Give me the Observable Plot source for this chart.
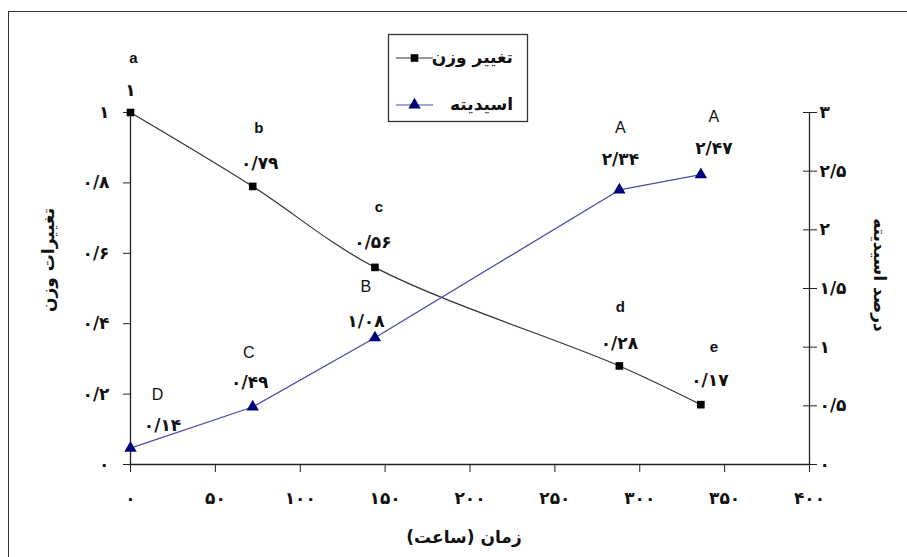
<!DOCTYPE html>
<html><head><meta charset="utf-8">
<script src="https://cdn.jsdelivr.net/npm/d3@7"></script>
<script src="https://cdn.jsdelivr.net/npm/@observablehq/plot@0.6"></script>
<style>
html,body{margin:0;padding:0;background:#fff;}
#wrap{position:relative;width:907px;height:557px;overflow:hidden;}
#frame{position:absolute;left:8px;top:11px;width:2000px;height:2000px;border-left:1.5px solid #333;border-top:1.5px solid #333;}
#wrap svg{position:absolute;left:0;top:0;}
</style>
</head><body>
<div id="wrap"><div id="frame"></div></div>
<script>
// ---- data ----
const hours = [0, 72, 144, 288, 336];
const weightChange = [1, 0.79, 0.56, 0.28, 0.17];
const acidity = [0.14, 0.49, 1.08, 2.34, 2.47];
const weightGroups = ["a", "b", "c", "d", "e"];
const acidityGroups = ["D", "C", "B", "A", "A"];
const xTicks = [0, 50, 100, 150, 200, 250, 300, 350, 400];
const leftTicks = [0, 0.2, 0.4, 0.6, 0.8, 1];
const rightTicks = [0, 0.5, 1, 1.5, 2, 2.5, 3];
const rightMax = 3;
const seriesNames = ["تغییر وزن", "اسیدیته"];
const xTitle = "زمان (ساعت)";
const leftTitle = "تغییرات وزن";
const rightTitle = "درصد اسیدیته";

// ---- helpers ----
const faDigits = "۰۱۲۳۴۵۶۷۸۹";
const fa = v => String(+(+v).toFixed(2)).replace(/\d/g, d => faDigits[d]).replace(".", "/");

const rows = hours.map((t, i) => ({t, w: weightChange[i], a: acidity[i], wg: weightGroups[i], ag: acidityGroups[i], i}));

// label layout offsets (pixels)
const wNumDx = [0, 7, -2, 0, 9], wNumDy = [-22, -23, -25, -22, -24];
const wLetDx = [3, 6, 4, 1, 13], wLetDy = [-54, -58, -60, -59, -57];
const aNumDx = [32, -3, -9, 1, 13], aNumDy = [-23, -24, -16, -30, -26];
const aLetDx = [27, -4, -9, 1, 13], aLetDy = [-53, -54, -51, -62, -58];

const persianFont = "'DejaVu Sans', sans-serif";
const latinFont = "'Liberation Sans', Arial, sans-serif";
const navy = "#00007a";
const blueLine = "#4a4aa8";

const labelMarks = [];
rows.forEach((r, i) => {
  labelMarks.push(Plot.text([r], {x: "t", y: "w", text: d => fa(d.w), dx: wNumDx[i], dy: wNumDy[i], fontFamily: persianFont, fontWeight: "bold", fontSize: 17, fill: "#111"}));
  labelMarks.push(Plot.text([r], {x: "t", y: "w", text: "wg", dx: wLetDx[i], dy: wLetDy[i], fontFamily: latinFont, fontWeight: "bold", fontSize: 15, fill: "#111"}));
  labelMarks.push(Plot.text([r], {x: "t", y: d => d.a / rightMax, text: d => fa(d.a), dx: aNumDx[i], dy: aNumDy[i], fontFamily: persianFont, fontWeight: "bold", fontSize: 17, fill: "#111"}));
  labelMarks.push(Plot.text([r], {x: "t", y: d => d.a / rightMax, text: "ag", dx: aLetDx[i], dy: aLetDy[i], fontFamily: latinFont, fontWeight: "normal", fontSize: 16, fill: "#111"}));
});

const axisStyle = {fontFamily: persianFont, fontWeight: "bold", fontSize: 17, fill: "#111", stroke: "#222"};

const chart = Plot.plot({
  width: 907, height: 557,
  marginLeft: 130, marginRight: 98, marginTop: 112, marginBottom: 93,
  x: {domain: [0, 400]},
  y: {domain: [0, 1]},
  style: {background: "transparent", color: "#111"},
  marks: [
    Plot.ruleX([0], {y1: 0, y2: 1, stroke: "#222", strokeWidth: 1.3}),
    Plot.ruleX([400], {y1: 0, y2: 1, stroke: "#222", strokeWidth: 1.3}),
    Plot.ruleY([0], {x1: 0, x2: 400, stroke: "#222", strokeWidth: 1.3}),
    Plot.axisX(xTicks, {anchor: "bottom", tickSize: 8, tickPadding: 19, tickFormat: fa, label: null, ...axisStyle}),
    Plot.axisY(leftTicks, {anchor: "left", tickSize: 7, tickPadding: 14, tickFormat: fa, label: null, ...axisStyle}),
    Plot.axisY(rightTicks.map(v => v / rightMax), {anchor: "right", tickSize: 14, dx: -7, tickFormat: () => "", label: null, ...axisStyle}),
    Plot.axisY(rightTicks.map(v => v / rightMax), {anchor: "right", tickSize: 0, tickPadding: 10, tickFormat: d => fa(d * rightMax), label: null, ...axisStyle}),
    Plot.line(rows, {x: "t", y: "w", curve: "catmull-rom", stroke: "#333", strokeWidth: 1.2}),
    Plot.line(rows, {x: "t", y: d => d.a / rightMax, curve: "linear", stroke: blueLine, strokeWidth: 1.3}),
    Plot.dot(rows, {x: "t", y: "w", symbol: "square", r: 4.3, fill: "#000", stroke: "none"}),
    Plot.dot(rows, {x: "t", y: d => d.a / rightMax, symbol: "triangle", r: 4.6, fill: navy, stroke: "none"}),
    ...labelMarks
  ]
});

document.getElementById("wrap").appendChild(chart);

// ---- titles and legend ----
const svg = d3.select(chart);
svg.append("text").attr("transform", "translate(49,260) rotate(-90)")
  .attr("text-anchor", "middle").attr("dominant-baseline", "middle")
  .style("font-family", persianFont).style("font-weight", "bold").style("font-size", "17px").attr("fill", "#111")
  .text(leftTitle);
svg.append("text").attr("transform", "translate(879,275) rotate(90)")
  .attr("text-anchor", "middle").attr("dominant-baseline", "middle")
  .style("font-family", persianFont).style("font-weight", "bold").style("font-size", "17px").attr("fill", "#111")
  .text(rightTitle);
svg.append("text").attr("x", 464).attr("y", 538)
  .attr("text-anchor", "middle").attr("dominant-baseline", "middle").attr("direction", "rtl")
  .style("font-family", persianFont).style("font-weight", "bold").style("font-size", "17px").attr("fill", "#111")
  .text(xTitle);

const lg = svg.append("g");
lg.append("rect").attr("x", 388.5).attr("y", 34.5).attr("width", 139).attr("height", 87)
  .attr("fill", "#fff").attr("stroke", "#333").attr("stroke-width", 1.3);
const legendRows = [
  {name: seriesNames[0], y: 58, stroke: "#333", fill: "#000", sym: d3.symbolSquare},
  {name: seriesNames[1], y: 105, stroke: blueLine, fill: navy, sym: d3.symbolTriangle}
];
legendRows.forEach(r => {
  lg.append("line").attr("x1", 396).attr("x2", 433).attr("y1", r.y).attr("y2", r.y).attr("stroke", r.stroke).attr("stroke-width", 1.2);
  lg.append("path").attr("d", d3.symbol(r.sym, r.sym === d3.symbolSquare ? 58 : 66)()).attr("transform", `translate(414.5,${r.y})`).attr("fill", r.fill);
  lg.append("text").attr("x", 513).attr("y", r.y).attr("text-anchor", "start").attr("direction", "rtl")
    .attr("dominant-baseline", "middle")
    .style("font-family", persianFont).style("font-weight", "bold").style("font-size", "17px").attr("fill", "#111")
    .text(r.name);
});
</script>
</body></html>
